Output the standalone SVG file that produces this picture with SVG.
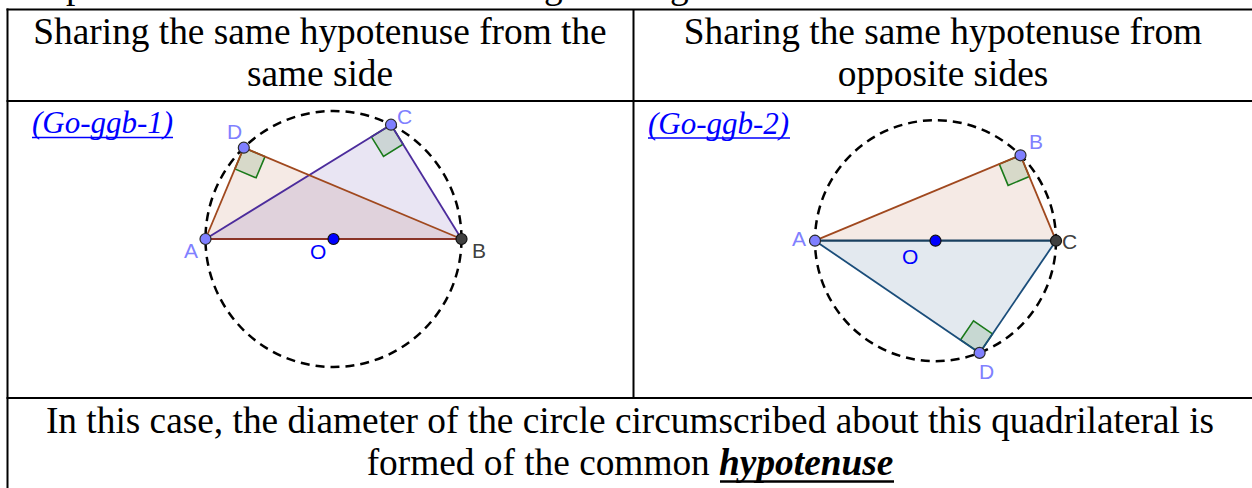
<svg xmlns="http://www.w3.org/2000/svg" width="1252" height="488" viewBox="0 0 1252 488">
<style>
.tb{stroke:#000;stroke-width:2;fill:none}
.hd{font-family:"Liberation Serif","Times New Roman",serif;font-size:37.33px;fill:#000;text-anchor:middle}
.lnk{font-family:"Liberation Serif","Times New Roman",serif;font-style:italic;font-size:31px;fill:#0000ff}
.circ{fill:none;stroke:#000;stroke-width:2.5;stroke-dasharray:9 6}
.lbl{font-family:"Liberation Sans",Arial,sans-serif;font-size:21px}
.pl{fill:#7f7fff;stroke:#2a2a2a;stroke-width:1.2}
.pd{fill:#404040;stroke:#111;stroke-width:1.2}
.po{fill:#0000ff;stroke:#111;stroke-width:1.2}
.ra{fill:#006400;fill-opacity:0.12;stroke:#1a7a1a;stroke-width:1.6}
</style>
<rect width="1252" height="488" fill="#fff"/>
<g id="top-fragment" font-family="Liberation Serif,serif" font-size="37.33px" fill="#000">
<text x="66" y="-2">p</text>
<text x="544" y="-2">g</text>
<text x="670" y="-2">g</text>
</g>
<g id="table">
<line class="tb" x1="6.5" y1="9.5" x2="1252" y2="9.5"/>
<line class="tb" x1="7.5" y1="8.5" x2="7.5" y2="488"/>
<line class="tb" x1="6.5" y1="101" x2="1252" y2="101"/>
<line class="tb" x1="633.5" y1="9" x2="633.5" y2="398"/>
<line class="tb" x1="6.5" y1="398" x2="1252" y2="398"/>
</g>
<g id="header-left">
<text class="hd" x="320" y="44">Sharing the same hypotenuse from the</text>
<text class="hd" x="320" y="86">same side</text>
</g>
<g id="header-right">
<text class="hd" x="943" y="44">Sharing the same hypotenuse from</text>
<text class="hd" x="943" y="86">opposite sides</text>
</g>
<g id="link1">
<text class="lnk" x="32" y="133">(Go-ggb-1)</text>
<line x1="32" y1="137.5" x2="173" y2="137.5" stroke="#0000ff" stroke-width="1.5"/>
</g>
<g id="link2">
<text class="lnk" x="648" y="134">(Go-ggb-2)</text>
<line x1="648" y1="138" x2="790" y2="138" stroke="#0000ff" stroke-width="1.5"/>
</g>
<g id="figure1">
<polygon points="205.5,239 243.8,147.7 461.5,239" fill="#993300" fill-opacity="0.1" stroke="none"/>
<polygon points="205.5,239 391,124.7 461.5,239" fill="#4c2c9c" fill-opacity="0.12" stroke="none"/>
<polygon class="ra" points="243.8,147.7 234.9,168.9 256.1,177.8 265,156.6"/>
<polygon class="ra" points="391,124.7 371.4,136.8 383.5,156.4 403.1,144.3"/>
<g id="connectors1" fill="none" stroke-width="1.8">
<line x1="205.5" y1="239" x2="391" y2="124.7" stroke="#4c2c9c"/>
<line x1="391" y1="124.7" x2="461.5" y2="239" stroke="#4c2c9c"/>
<line x1="205.5" y1="239" x2="243.8" y2="147.7" stroke="#a0481e"/>
<line x1="243.8" y1="147.7" x2="461.5" y2="239" stroke="#a0481e"/>
<line x1="205.5" y1="239" x2="461.5" y2="239" stroke="#8a3428" stroke-width="2.2"/>
</g>
<circle class="circ" cx="333.5" cy="239" r="128"/>
<g id="pt-A1"><circle class="pl" cx="205.5" cy="239" r="5.5"/><text class="lbl" x="184" y="258" fill="#8080ff">A</text></g>
<g id="pt-B1"><circle class="pd" cx="461.5" cy="239" r="5.5"/><text class="lbl" x="472" y="258" fill="#404040">B</text></g>
<g id="pt-C1"><circle class="pl" cx="391" cy="124.7" r="5.5"/><text class="lbl" x="397" y="124" fill="#8080ff">C</text></g>
<g id="pt-D1"><circle class="pl" cx="243.8" cy="147.7" r="5.5"/><text class="lbl" x="227" y="139" fill="#8080ff">D</text></g>
<g id="pt-O1"><circle class="po" cx="333.5" cy="239" r="5.5"/><text class="lbl" x="310" y="259" fill="#0000ff">O</text></g>
</g>
<g id="figure2">
<polygon points="815,240.7 1020.5,155.3 1056,240.7" fill="#993300" fill-opacity="0.1" stroke="none"/>
<polygon points="815,240.7 979.6,352.9 1056,240.7" fill="#1a4d7a" fill-opacity="0.12" stroke="none"/>
<polygon class="ra" points="1020.5,155.3 999.3,164.1 1008.1,185.4 1029.3,176.5"/>
<polygon class="ra" points="979.6,352.9 960.6,339.9 973.5,320.9 992.5,333.9"/>
<g id="connectors2" fill="none" stroke-width="1.8">
<line x1="815" y1="240.7" x2="1020.5" y2="155.3" stroke="#a0481e"/>
<line x1="1020.5" y1="155.3" x2="1056" y2="240.7" stroke="#a0481e"/>
<line x1="815" y1="240.7" x2="979.6" y2="352.9" stroke="#1a4d7a"/>
<line x1="979.6" y1="352.9" x2="1056" y2="240.7" stroke="#1a4d7a"/>
<line x1="815" y1="240.7" x2="1056" y2="240.7" stroke="#1a4060" stroke-width="2.2"/>
</g>
<circle class="circ" cx="935.5" cy="240.7" r="120.5"/>
<g id="pt-A2"><circle class="pl" cx="815" cy="240.7" r="5.5"/><text class="lbl" x="792" y="246" fill="#8080ff">A</text></g>
<g id="pt-B2"><circle class="pl" cx="1020.5" cy="155.3" r="5.5"/><text class="lbl" x="1029" y="149" fill="#8080ff">B</text></g>
<g id="pt-C2"><circle class="pd" cx="1056" cy="240.7" r="5.5"/><text class="lbl" x="1062" y="249" fill="#404040">C</text></g>
<g id="pt-D2"><circle class="pl" cx="979.6" cy="352.9" r="5.5"/><text class="lbl" x="979" y="379" fill="#8080ff">D</text></g>
<g id="pt-O2"><circle class="po" cx="935.5" cy="240.7" r="5.5"/><text class="lbl" x="902" y="264" fill="#0000ff">O</text></g>
</g>
<g id="footer">
<text class="hd" x="630" y="433">In this case, the diameter of the circle circumscribed about this quadrilateral is</text>
<text class="hd" x="630" y="475">formed of the common <tspan font-weight="bold" font-style="italic">hypotenuse</tspan></text>
<line x1="720" y1="481.5" x2="894" y2="481.5" stroke="#000" stroke-width="2.5"/>
</g>
</svg>
